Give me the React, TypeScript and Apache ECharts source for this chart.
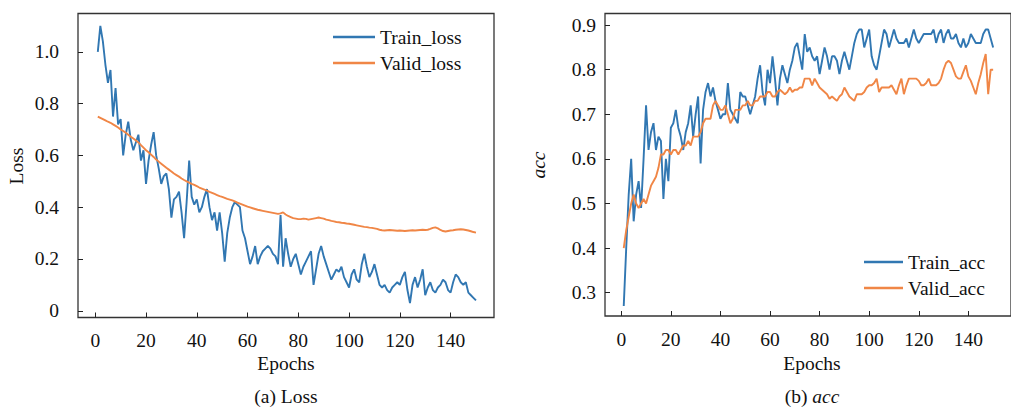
import React, { useEffect, useRef } from "react";
import * as echarts from "echarts";

const EPOCHS = [
  1, 2, 3, 4, 5, 6, 7, 8, 9, 10, 11, 12, 13, 14, 15, 16, 17, 18, 19, 20,
  21, 22, 23, 24, 25, 26, 27, 28, 29, 30, 31, 32, 33, 34, 35, 36, 37, 38, 39, 40,
  41, 42, 43, 44, 45, 46, 47, 48, 49, 50, 51, 52, 53, 54, 55, 56, 57, 58, 59, 60,
  61, 62, 63, 64, 65, 66, 67, 68, 69, 70, 71, 72, 73, 74, 75, 76, 77, 78, 79, 80,
  81, 82, 83, 84, 85, 86, 87, 88, 89, 90, 91, 92, 93, 94, 95, 96, 97, 98, 99, 100,
  101, 102, 103, 104, 105, 106, 107, 108, 109, 110, 111, 112, 113, 114, 115, 116, 117, 118, 119, 120,
  121, 122, 123, 124, 125, 126, 127, 128, 129, 130, 131, 132, 133, 134, 135, 136, 137, 138, 139, 140,
  141, 142, 143, 144, 145, 146, 147, 148, 149, 150,
];

const trainLoss = [
  1.0, 1.1, 1.04, 0.95, 0.88, 0.93, 0.75, 0.86, 0.72, 0.74,
  0.6, 0.68, 0.73, 0.66, 0.62, 0.65, 0.68, 0.58, 0.62, 0.49,
  0.58, 0.64, 0.69, 0.6, 0.55, 0.49, 0.52, 0.53, 0.47, 0.36,
  0.43, 0.44, 0.46, 0.38, 0.28, 0.42, 0.58, 0.44, 0.41, 0.43,
  0.38, 0.4, 0.44, 0.47, 0.4, 0.35, 0.38, 0.31, 0.38, 0.3,
  0.19, 0.3, 0.36, 0.4, 0.42, 0.41, 0.4, 0.31, 0.28, 0.23,
  0.18, 0.21, 0.25, 0.18, 0.21, 0.23, 0.24, 0.25, 0.24, 0.22,
  0.21, 0.18, 0.37, 0.17, 0.28, 0.22, 0.17, 0.2, 0.22, 0.18,
  0.14, 0.17, 0.19, 0.21, 0.23, 0.1, 0.16, 0.22, 0.25, 0.21,
  0.18, 0.15, 0.12, 0.14, 0.16, 0.15, 0.17, 0.13, 0.11, 0.09,
  0.14, 0.16, 0.12, 0.11, 0.18, 0.22, 0.17, 0.13, 0.15, 0.18,
  0.14, 0.1, 0.09, 0.1, 0.08, 0.07, 0.09, 0.1, 0.11, 0.1,
  0.13, 0.15, 0.08, 0.03, 0.1, 0.13, 0.09, 0.12, 0.16, 0.06,
  0.09, 0.11, 0.08, 0.07, 0.09, 0.1, 0.12, 0.11, 0.08, 0.07,
  0.11, 0.14, 0.13, 0.11, 0.1, 0.11, 0.07, 0.06, 0.05, 0.04,
];

const validLoss = [
  0.75, 0.745, 0.74, 0.735, 0.73, 0.726, 0.72, 0.714, 0.708, 0.7,
  0.694, 0.688, 0.68, 0.672, 0.665, 0.658, 0.65, 0.64, 0.63, 0.62,
  0.612, 0.603, 0.594, 0.584, 0.576, 0.568, 0.56, 0.552, 0.545, 0.538,
  0.53, 0.524, 0.518, 0.511, 0.505, 0.5, 0.495, 0.49, 0.486, 0.481,
  0.476, 0.472, 0.468, 0.464, 0.459, 0.455, 0.451, 0.447, 0.443, 0.44,
  0.436, 0.432, 0.429, 0.426, 0.422, 0.418, 0.414, 0.41, 0.406, 0.402,
  0.399, 0.396, 0.393, 0.39, 0.388, 0.386, 0.384, 0.382, 0.38, 0.378,
  0.376, 0.374, 0.376, 0.38, 0.372, 0.366, 0.362, 0.358, 0.356, 0.354,
  0.354, 0.356, 0.355, 0.352, 0.354, 0.356, 0.358, 0.36, 0.358, 0.356,
  0.352, 0.35, 0.347, 0.345, 0.343, 0.342, 0.34, 0.339, 0.337, 0.336,
  0.334, 0.332, 0.33, 0.328, 0.326, 0.324, 0.323, 0.321, 0.32, 0.318,
  0.316, 0.313, 0.311, 0.31, 0.311, 0.312, 0.311, 0.31, 0.309, 0.31,
  0.309, 0.308, 0.309, 0.31, 0.311, 0.31, 0.311, 0.312, 0.313, 0.312,
  0.313, 0.316, 0.32, 0.322, 0.318, 0.312, 0.308, 0.306, 0.308, 0.31,
  0.311, 0.313, 0.314, 0.315, 0.314, 0.312, 0.31, 0.307, 0.304, 0.302,
];

const trainAcc = [
  0.27, 0.4, 0.52, 0.6, 0.46, 0.52, 0.55, 0.49, 0.6, 0.72,
  0.62, 0.66, 0.68, 0.62, 0.65, 0.64, 0.51, 0.6, 0.55, 0.67,
  0.68, 0.71, 0.67, 0.65, 0.62, 0.66, 0.68, 0.72, 0.65, 0.7,
  0.74, 0.59, 0.71, 0.75, 0.77, 0.74, 0.76, 0.73, 0.71, 0.69,
  0.7, 0.7, 0.77, 0.71, 0.7, 0.69, 0.68, 0.75, 0.74, 0.74,
  0.72, 0.7, 0.72, 0.74, 0.78, 0.81, 0.75, 0.72, 0.8, 0.77,
  0.83, 0.78, 0.72, 0.78, 0.81, 0.79, 0.77, 0.8, 0.82, 0.85,
  0.86, 0.83, 0.8, 0.88, 0.84, 0.85, 0.83, 0.82, 0.83, 0.79,
  0.82, 0.85, 0.83, 0.8, 0.83, 0.83, 0.82, 0.79, 0.82, 0.84,
  0.82, 0.8, 0.83, 0.86, 0.88, 0.89, 0.89, 0.85, 0.87, 0.89,
  0.83, 0.81, 0.8, 0.83, 0.86, 0.89, 0.88, 0.85, 0.87, 0.89,
  0.87, 0.86, 0.86, 0.86, 0.87, 0.85, 0.87, 0.89, 0.87, 0.86,
  0.87, 0.88, 0.88, 0.88, 0.88, 0.89, 0.86, 0.88, 0.89, 0.86,
  0.88, 0.89, 0.87, 0.87, 0.88, 0.86, 0.85, 0.87, 0.85, 0.86,
  0.88, 0.87, 0.86, 0.86, 0.86, 0.88, 0.89, 0.89, 0.87, 0.85,
];

const validAcc = [
  0.4, 0.44, 0.47, 0.5, 0.52, 0.5, 0.49, 0.5, 0.51, 0.5,
  0.52, 0.54, 0.55, 0.56, 0.58, 0.61, 0.61, 0.62, 0.62, 0.61,
  0.62, 0.62, 0.61, 0.62, 0.63, 0.63, 0.64, 0.63, 0.65, 0.65,
  0.65, 0.66, 0.68, 0.69, 0.69, 0.69, 0.72, 0.73, 0.72, 0.71,
  0.71, 0.72, 0.7, 0.68, 0.69, 0.71, 0.71, 0.71, 0.72, 0.72,
  0.73, 0.72, 0.72, 0.73, 0.73, 0.74, 0.74, 0.74, 0.75, 0.75,
  0.74, 0.74, 0.75, 0.755, 0.75, 0.745, 0.75, 0.76, 0.75, 0.755,
  0.755, 0.76, 0.76, 0.78, 0.78, 0.78, 0.765, 0.78, 0.77, 0.76,
  0.755, 0.75, 0.745, 0.735, 0.74, 0.735, 0.73, 0.74, 0.745, 0.76,
  0.75, 0.74, 0.735, 0.73, 0.745, 0.745, 0.745, 0.75, 0.76, 0.765,
  0.765, 0.77, 0.78, 0.75, 0.76, 0.76, 0.76, 0.76, 0.765, 0.755,
  0.745, 0.765, 0.78, 0.745, 0.765, 0.78, 0.78, 0.78, 0.78, 0.775,
  0.765, 0.765, 0.77, 0.78, 0.765, 0.765, 0.765, 0.77, 0.78, 0.8,
  0.815, 0.82, 0.815, 0.8, 0.785, 0.78, 0.78, 0.795, 0.81, 0.785,
  0.775, 0.76, 0.745, 0.77, 0.79, 0.815, 0.835, 0.745, 0.8, 0.8,
];

const FONT = "Liberation Serif";
const BLUE = "#3177b2";
const ORANGE = "#f08646";
const TEXT = "#111";
const FS = 19.5;

function pairs(vals: number[]) {
  return EPOCHS.map((e, i) => [e, vals[i]]);
}

function xAxisCfg(gridIndex: number, min: number, max: number) {
  return {
    type: "value",
    gridIndex,
    min,
    max,
    minInterval: 20,
    maxInterval: 20,
    axisLine: { show: false, onZero: false },
    axisTick: { show: true, inside: true, length: 5, lineStyle: { color: "#222", width: 1 } },
    axisLabel: {
      showMinLabel: false,
      showMaxLabel: false,
      fontSize: FS,
      color: TEXT,
      fontFamily: FONT,
      margin: 13,
    },
    splitLine: { show: false },
  };
}

function yAxisCfg(gridIndex: number, min: number, max: number, step: number, margin: number, fmt: (v: number) => string) {
  return {
    type: "value",
    gridIndex,
    min,
    max,
    minInterval: step,
    maxInterval: step,
    axisLine: { show: false, onZero: false },
    axisTick: { show: true, inside: true, length: 5, lineStyle: { color: "#222", width: 1 } },
    axisLabel: {
      showMinLabel: false,
      showMaxLabel: false,
      fontSize: FS,
      color: TEXT,
      fontFamily: FONT,
      margin,
      formatter: fmt,
    },
    splitLine: { show: false },
  };
}

function lineSeries(name: string, vals: number[], color: string, axisIndex: number) {
  return {
    name,
    type: "line",
    xAxisIndex: axisIndex,
    yAxisIndex: axisIndex,
    data: pairs(vals),
    showSymbol: false,
    symbol: "none",
    lineStyle: { width: 1.9, color },
    itemStyle: { color },
  };
}

function legendCfg(names: string[], left: number, top: number, itemWidth: number) {
  return {
    data: names,
    left,
    top,
    orient: "vertical",
    icon: "rect",
    itemWidth,
    itemHeight: 2.5,
    itemGap: 6,
    padding: 0,
    textStyle: { fontSize: FS, color: TEXT, fontFamily: FONT, lineHeight: 20 },
  };
}

function txt(text: string, x: number, y: number, italic = false, rotation = 0) {
  return {
    type: "text",
    x,
    y,
    rotation,
    style: {
      text,
      fontSize: FS,
      fontFamily: FONT,
      fontStyle: italic ? "italic" : "normal",
      fill: TEXT,
      align: "center",
      verticalAlign: "middle",
    },
  };
}

export default function App() {
  const ref = useRef<HTMLDivElement>(null);
  useEffect(() => {
    if (!ref.current) return;
    const chart = echarts.init(ref.current, null, { renderer: "svg" });
    chart.setOption({
      animation: false,
      backgroundColor: "#ffffff",
      textStyle: { fontFamily: FONT },
      grid: [
        { left: 78, top: 13.5, width: 416, height: 304, show: true, borderColor: "#333", borderWidth: 1.3, backgroundColor: "transparent" },
        { left: 605, top: 13.5, width: 417, height: 302.5, show: true, borderColor: "#333", borderWidth: 1.3, backgroundColor: "transparent" },
      ],
      xAxis: [xAxisCfg(0, -6.8, 157.1), xAxisCfg(1, -6.56, 157.2)],
      yAxis: [
        yAxisCfg(0, -0.026, 1.148, 0.2, 19, (v: number) => (Math.abs(v) < 1e-9 ? "0" : v.toFixed(1))),
        yAxisCfg(1, 0.2477, 0.926, 0.1, 9, (v: number) => v.toFixed(1)),
      ],
      legend: [
        legendCfg(["Train_loss", "Valid_loss"], 333, 27, 42),
        legendCfg(["Train_acc", "Valid_acc"], 864, 252, 39),
      ],
      series: [
        lineSeries("Train_loss", trainLoss, BLUE, 0),
        lineSeries("Valid_loss", validLoss, ORANGE, 0),
        lineSeries("Train_acc", trainAcc, BLUE, 1),
        lineSeries("Valid_acc", validAcc, ORANGE, 1),
      ],
      graphic: [
        txt("Loss", 16, 166, false, Math.PI / 2),
        txt("acc", 538.5, 165, true, Math.PI / 2),
        txt("Epochs", 286, 363),
        txt("Epochs", 812, 363),
        txt("(a) Loss", 286, 396.5),
        {
          type: "text",
          x: 812,
          y: 396.5,
          style: {
            text: "{n|(b) }{i|acc}",
            align: "center",
            verticalAlign: "middle",
            rich: {
              n: { fontSize: FS, fontFamily: FONT, fill: TEXT, color: TEXT },
              i: { fontSize: FS, fontFamily: FONT, fontStyle: "italic", fill: TEXT, color: TEXT },
            },
          },
        },
      ],
    });
    return () => chart.dispose();
  }, []);
  return (
    <div
      ref={ref}
      style={{ position: "absolute", left: 0, top: 0, width: 1011, height: 407, background: "#fff" }}
    />
  );
}
